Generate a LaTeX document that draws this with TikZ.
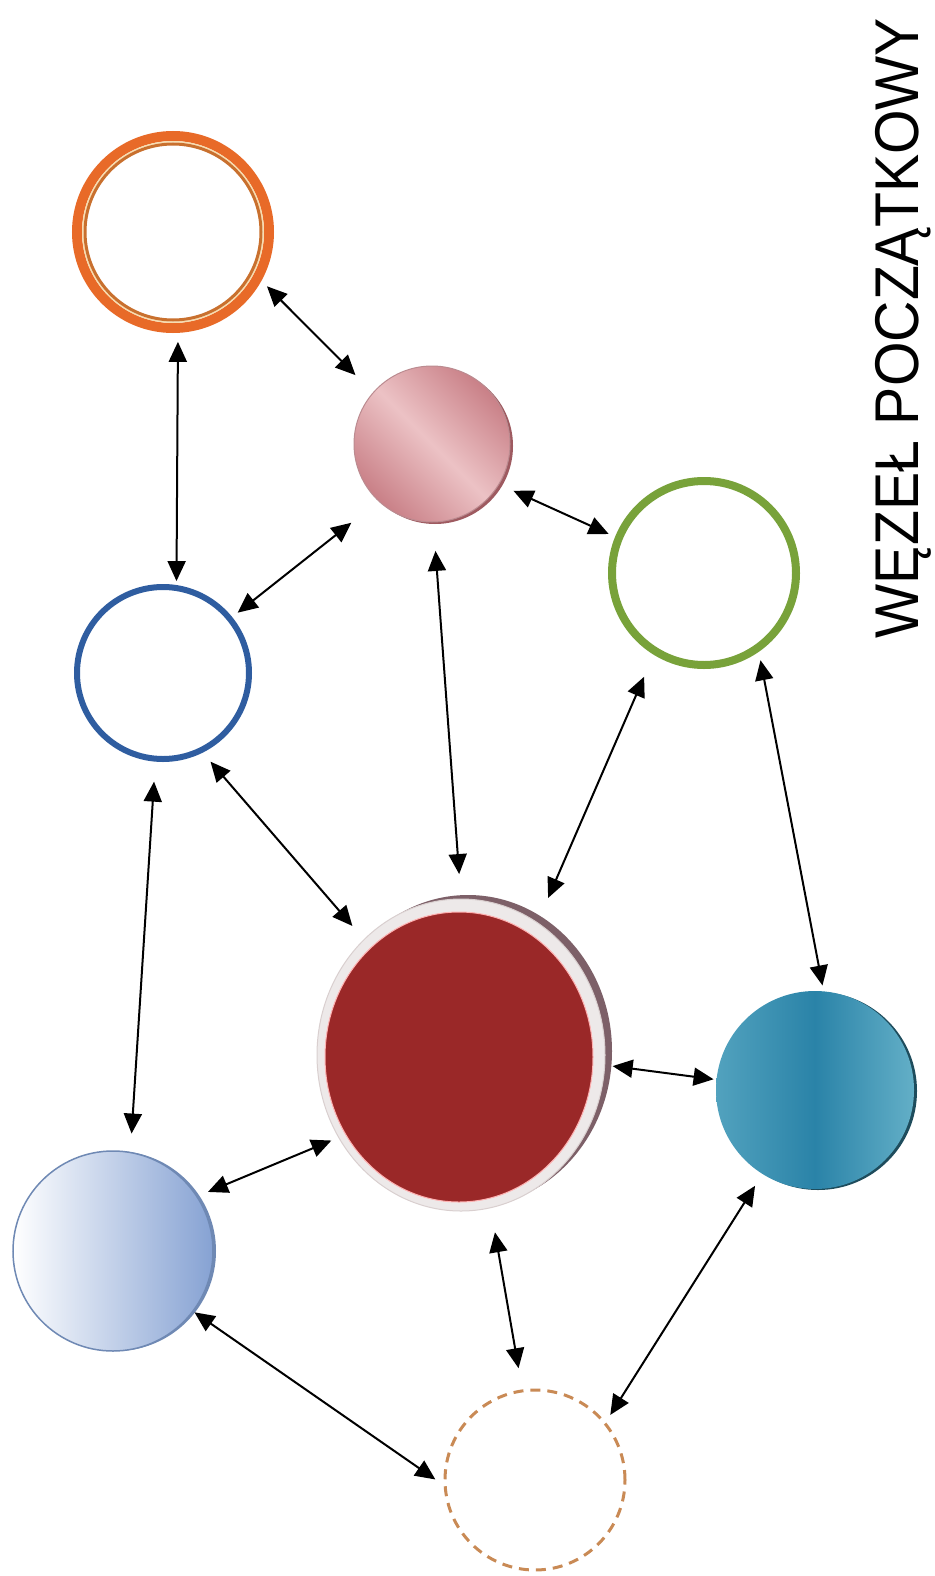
\documentclass[tikz,border=0pt]{standalone}
\usepackage{xcolor}
\usepackage{graphicx}
\usepackage{fontspec}
\usepackage{tikz}
\usetikzlibrary{arrows.meta, shapes, calc}
\newfontfamily\sketchfont{Liberation Sans}
\definecolor{ringorange}{HTML}{E86A28}
\definecolor{ringcream}{HTML}{F7DDB0}
\definecolor{ringinner}{HTML}{C9702E}
\definecolor{pinkdark}{HTML}{C98087}
\definecolor{pinklight}{HTML}{ECC2C5}
\definecolor{pinkedge}{HTML}{9E5A60}
\definecolor{grnring}{HTML}{78A23A}
\definecolor{bluring}{HTML}{2F5DA0}
\definecolor{rimgray}{HTML}{EDE9E9}
\definecolor{rimedge}{HTML}{D9CFCF}
\definecolor{redshadow}{HTML}{7D6068}
\definecolor{redcore}{HTML}{9A2828}
\definecolor{teallight}{HTML}{52A2BE}
\definecolor{tealmid}{HTML}{2A83A8}
\definecolor{tealright}{HTML}{63AFC7}
\definecolor{tealedge}{HTML}{1E4C5C}
\definecolor{lbright}{HTML}{86A2D3}
\definecolor{lbedge}{HTML}{6F89B4}
\definecolor{dashorange}{HTML}{C98A55}

\begin{document}
\begin{tikzpicture}[x=1pt, y=-1pt,
	ball/.style={circle, inner sep=0, outer sep=0},
	link/.style={line width=2pt, {Triangle[length=20pt, width=18pt]}-{Triangle[length=20pt, width=18pt]}}]
			\useasboundingbox[fill=white] (0,0) rectangle (934,1576);
			
			% rings
			\node[ball, minimum size=192, draw=ringorange, line width=10] (O) at (173,232) {};
			\draw[ringcream, line width=1.5] (O) circle (90.25);
			\draw[ringinner, line width=3] (O) circle (88);
			\node[ball, minimum size=184, draw=grnring, line width=8] (G) at (704,573) {};
			\node[ball, minimum size=172, draw=bluring, line width=6] (B) at (163,673) {};
			\node[ball, minimum size=180, draw=dashorange, line width=3, dash pattern=on 10pt off 7pt] (D) at (535,1480) {};
			
			% shaded balls
			\fill[pinkedge] (435,446) circle (78);
			\node[ball, minimum size=156, left color=pinkdark, right color=pinkdark, middle color=pinklight, shading angle=135, draw=pinkedge!70, line width=1] (P) at (432,444) {};
			
			\fill[tealedge] (818,1091) circle (99);
			\node[ball, minimum size=198, left color=teallight, right color=tealright, middle color=tealmid] (T) at (815,1090) {};
			
			\fill[lbedge] (116,1251) circle (100);
			\node[ball, minimum size=200, left color=white, right color=lbright, draw=lbedge, line width=1.5] (L) at (113,1251) {};
			
			% big red
			\fill[redshadow] (468,1051) ellipse (144 and 156);
			\node[ellipse, inner sep=0, outer sep=0, minimum width=288, minimum height=312, fill=rimgray, draw=rimedge, line width=1] (R) at (461,1055) {};
			\fill[redcore, draw=red!30, line width=1] (459,1057) ellipse (134 and 145);
			
			\node[rotate=90, inner sep=0] (title) at (903,328) {\resizebox*{620pt}{56pt}{\sketchfont WĘZEŁ POCZĄTKOWY}};
			
			% links
			\draw[link, shorten <=14pt, shorten >=7pt] (O.-87) -- (B.81);
			\draw[link, shorten <=13pt, shorten >=25pt] (O.-28) -- (P.139);
			\draw[link, shorten <=35pt, shorten >=10pt] (P.-133) -- (B.39);
			\draw[link, shorten <=16pt, shorten >=11pt] (P.-31) -- (G.158);
			\draw[link, shorten <=29pt, shorten >=25pt] (P.-89) -- (R.90);
			\draw[link, shorten <=15pt, shorten >=18pt] (B.-64) -- (R.130);
			\draw[link, shorten <=28pt, shorten >=27pt] (G.-122) -- (R.60);
			\draw[link, shorten <=13pt, shorten >=6pt] (G.-54) -- (T.85);
			\draw[link, shorten <=23pt, shorten >=19pt] (B.-95) -- (L.80);
			\draw[link, shorten <=8pt, shorten >=3pt] (R.-4) -- (T.174);
			\draw[link, shorten <=8pt, shorten >=12pt] (R.-146) -- (L.33);
			\draw[link, shorten <=25pt, shorten >=23pt] (R.-79) -- (D.98);
			\draw[link, shorten <=2pt, shorten >=12pt] (L.-37) -- (D.-176);
			\draw[link, shorten <=14pt, shorten >=10pt] (T.-122) -- (D.39);
\end{tikzpicture}
\end{document}
